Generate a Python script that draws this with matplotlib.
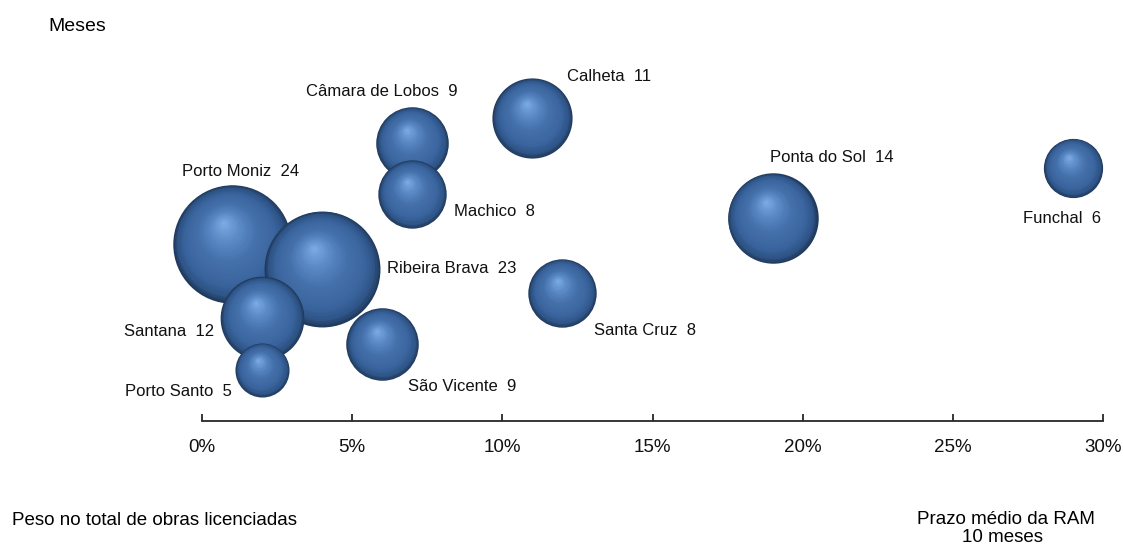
import numpy as np
import matplotlib
matplotlib.use("Agg")
import matplotlib.pyplot as plt
from matplotlib.colors import LinearSegmentedColormap
from matplotlib.transforms import ScaledTranslation

plt.rcParams["font.family"] = ["Liberation Sans", "DejaVu Sans"]

# dados por concelho
concelhos = ["Porto Moniz", "Ribeira Brava", "Santana", "Porto Santo", "São Vicente",
             "Machico", "Câmara de Lobos", "Calheta", "Santa Cruz", "Ponta do Sol", "Funchal"]
peso = [1, 4, 2, 2, 6, 7, 7, 11, 12, 19, 29]          # % no total de obras licenciadas
prazo = [24, 23, 12, 5, 9, 8, 9, 11, 8, 14, 6]        # meses (tamanho da bolha)
posicao = [17.7, 15.2, 10.3, 5.1, 7.7, 22.7, 27.8, 30.3, 12.8, 20.3, 25.3]  # eixo vertical (oculto)
xticks = [0, 5, 10, 15, 20, 25, 30]

# colocacao dos rotulos (deslocamento em px, alinhamento)
rotulos = [(9, 68, "center"), (65, -4, "left"), (-48, -18, "right"), (-30, -26, "right"),
           (26, -47, "left"), (42, -22, "left"), (-106, 47, "left"), (35, 37, "left"),
           (32, -42, "left"), (-3, 56, "left"), (28, -55, "right")]

BUBBLE_SCALE = 303      # pt^2 por mes
N_LAYERS = 40
HX, HY = -0.15, 0.37    # posicao do brilho relativa ao raio

esfera = LinearSegmentedColormap.from_list("esfera", [
    (0.0, "#80ade4"), (0.25, "#5b8ac6"), (0.5, "#4571ab"),
    (0.78, "#3a649d"), (0.92, "#2f5587"), (1.0, "#213b5e")])

fig = plt.figure(figsize=(11.24, 5.46), dpi=100)
ax = fig.add_axes([202 / 1124, 125 / 546, 901 / 1124, 421 / 546])
ax.set_xlim(0, 30)
ax.set_ylim(0, 42.1)

# bolhas maiores primeiro
ordem = sorted(range(len(concelhos)), key=lambda i: -prazo[i])
for i in ordem:
    s0 = BUBBLE_SCALE * prazo[i]
    r_pt = np.sqrt(s0) / 2
    for k in range(N_LAYERS):
        f = 1 - k / N_LAYERS
        dx = (1 - f) * HX * r_pt
        dy = (1 - f) * HY * r_pt
        tr = ax.transData + ScaledTranslation(dx / 72, dy / 72, fig.dpi_scale_trans)
        ax.scatter([peso[i]], [posicao[i]], s=s0 * f ** 2, color=esfera(f),
                   linewidths=0, transform=tr, clip_on=False)

for i, nome in enumerate(concelhos):
    dx, dy, ha = rotulos[i]
    ax.annotate(f"{nome}  {prazo[i]}", (peso[i], posicao[i]),
                xytext=(dx * 0.72, dy * 0.72), textcoords="offset points",
                ha=ha, va="baseline", fontsize=12, color="#111111")

for lado in ["left", "top", "right"]:
    ax.spines[lado].set_visible(False)
ax.spines["bottom"].set_color("#262626")
ax.spines["bottom"].set_linewidth(1.3)
ax.set_yticks([])
ax.set_xticks(xticks)
ax.set_xticklabels([f"{t}%" for t in xticks])
ax.tick_params(axis="x", direction="in", length=5, width=1.3, color="#262626",
               pad=13, labelsize=13.5, labelcolor="#111111")

fig.text(48 / 1124, 1 - 31 / 546, "Meses", fontsize=14, va="baseline")
fig.text(12 / 1124, 21 / 546, "Peso no total de obras licenciadas", fontsize=13.5, va="baseline")
fig.text(1006 / 1124, 22 / 546, "Prazo médio da RAM", fontsize=13.5, ha="center", va="baseline")
fig.text(1003 / 1124, 4 / 546, "10 meses", fontsize=13.5, ha="center", va="baseline")

fig.savefig("out.png", dpi=100)
